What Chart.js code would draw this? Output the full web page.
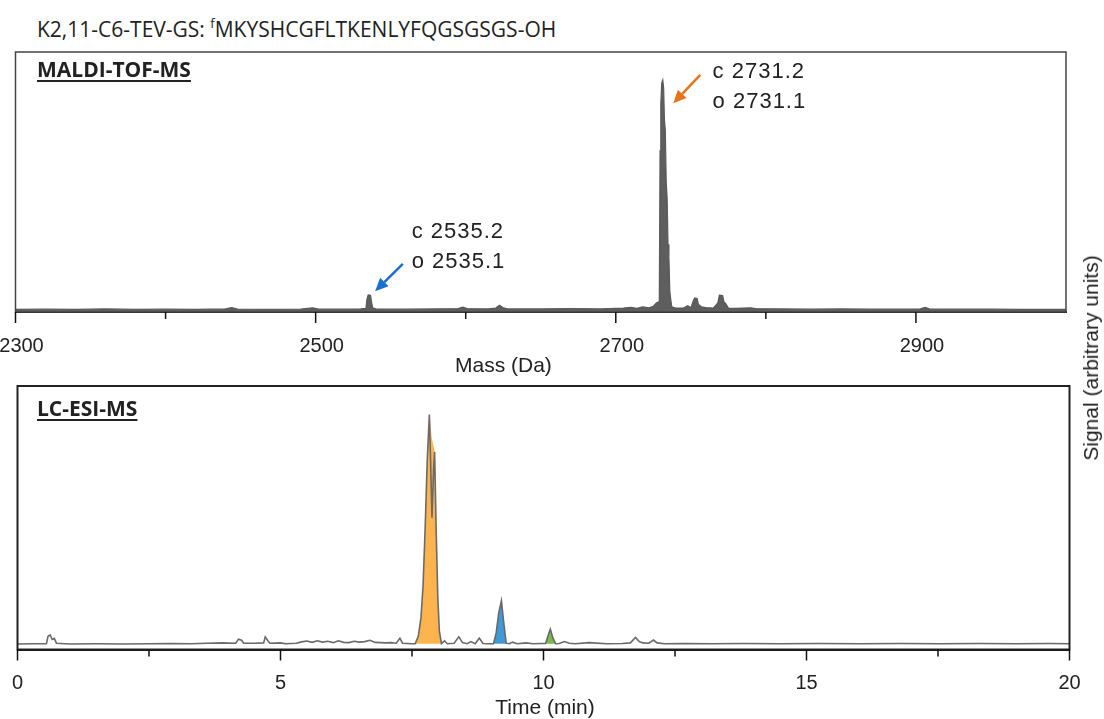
<!DOCTYPE html>
<html lang="en">
<head>
    <meta charset="UTF-8">
    <title>K2,11-C6-TEV-GS MALDI / LC-ESI</title>
    <script src="https://cdn.jsdelivr.net/npm/chart.js@4.4.1/dist/chart.umd.min.js"></script>
    <style>
        body {
            margin: 0;
            background: #ffffff;
            width: 1104px;
            height: 719px;
            overflow: hidden;
            position: relative;
            font-family: 'Liberation Sans', Arial, sans-serif;
            color: #222;
        }
        canvas { position: absolute; left: 0; }
        #topChart { top: 0; }
        #lcChart { top: 380px; }
        .title {
            position: absolute;
            left: 37px;
            top: 13px;
            font-family: 'Open Sans', sans-serif;
            font-size: 21px;
            line-height: 21px;
            white-space: nowrap;
        }
        .title sup { font-size: 13px; vertical-align: 9px; }
        .panel-label {
            position: absolute;
            left: 37px;
            font-family: 'Open Sans', sans-serif;
            font-weight: bold;
            font-size: 21px;
            line-height: 21px;
            text-decoration: underline;
            text-underline-offset: 3px;
        }
        .axis-title {
            position: absolute;
            font-size: 21px;
            line-height: 21px;
            white-space: nowrap;
        }
        .y-title {
            position: absolute;
            left: 1091px;
            top: 358px;
            font-size: 21px;
            white-space: nowrap;
            transform: translate(-50%, -50%) rotate(-90deg);
        }
    </style>
</head>
<body>
    <div class="title">K2,11-C6-TEV-GS: <sup>f</sup>MKYSHCGFLTKENLYFQGSGSGS-OH</div>
    <canvas id="topChart" width="1104" height="380"></canvas>
    <canvas id="lcChart" width="1104" height="339"></canvas>
    <div class="panel-label" style="top:59px">MALDI-TOF-MS</div>
    <div class="panel-label" style="top:398px">LC-ESI-MS</div>
    <div class="axis-title" style="left:455px; top:354px">Mass (Da)</div>
    <div class="axis-title" style="left:445px; width:200px; text-align:center; top:696px">Time (min)</div>
    <div class="y-title">Signal (arbitrary units)</div>

    <script>
        // MALDI-TOF spectrum (mass in Da, signal in arbitrary units)
        const maldiMass = [
            2300, 2320, 2340, 2360, 2380, 2400, 2420, 2440, 2444, 2448,
            2470, 2490, 2498, 2502, 2520, 2530, 2533.5, 2534.2, 2535.0, 2536.6,
            2537.2, 2538, 2540, 2560, 2580, 2595, 2598, 2601, 2615, 2620,
            2622.5, 2625, 2628, 2650, 2670, 2690, 2705, 2710, 2714, 2718,
            2722, 2725, 2727, 2729, 2729.5, 2730.0, 2730.6, 2731.3, 2731.9, 2732.4,
            2733.0, 2733.6, 2734.2, 2734.8, 2735.4, 2736.0, 2736.6, 2737.3, 2740, 2745,
            2748, 2750, 2751.8, 2752.6, 2754.2, 2755, 2757, 2760, 2765, 2768,
            2769, 2771.2, 2772, 2773.5, 2775, 2780, 2790, 2793, 2810, 2830,
            2850, 2870, 2890, 2903, 2906, 2909, 2930, 2950, 2970, 3000
        ];
        const maldiSignal = [
            1.0, 1.1, 1.0, 1.2, 1.0, 1.1, 1.0, 1.2, 1.7, 1.1,
            1.0, 1.1, 1.6, 1.1, 1.1, 1.2, 1.4, 5.0, 6.6, 6.4,
            4.0, 1.6, 1.2, 1.1, 1.2, 1.3, 1.9, 1.3, 1.2, 1.5,
            2.6, 1.6, 1.2, 1.2, 1.3, 1.2, 1.5, 1.8, 1.4, 2.0,
            1.6, 2.2, 3.5, 4.0, 62, 80, 88, 89.2, 86, 74,
            70, 50, 44, 26, 21, 8, 5, 2.0, 1.5, 1.5,
            2.4, 1.6, 4.5, 5.4, 5.2, 3.0, 2.0, 1.7, 1.5, 3.5,
            6.5, 6.3, 4.0, 3.0, 1.5, 1.4, 1.6, 1.3, 1.2, 1.1,
            1.2, 1.1, 1.1, 1.2, 1.8, 1.2, 1.1, 1.1, 1.0, 1.0
        ];
        const maldiTicks = [2300, 2400, 2500, 2600, 2700, 2800, 2900];
        const maldiLabels = [2300, 2500, 2700, 2900];

        // LC-ESI trace (time in min, signal in arbitrary units)
        const lcTime = [
            0, 0.3, 0.55, 0.58, 0.62, 0.66, 0.7, 0.74, 1.0, 1.5,
            2.0, 2.5, 2.9, 3.3, 3.6, 3.9, 4.15, 4.2, 4.26, 4.3,
            4.5, 4.68, 4.71, 4.76, 4.8, 5.0, 5.1, 5.3, 5.4, 5.5,
            5.6, 5.7, 5.8, 5.9, 6.0, 6.1, 6.2, 6.3, 6.4, 6.5,
            6.6, 6.7, 6.8, 6.9, 7.0, 7.1, 7.2, 7.27, 7.32, 7.5,
            7.56, 7.62, 7.67, 7.71, 7.75, 7.79, 7.83, 7.855, 7.88, 7.91,
            7.93, 7.96, 7.99, 8.02, 8.06, 8.12, 8.17, 8.3, 8.39, 8.46,
            8.55, 8.62, 8.7, 8.78, 8.85, 8.95, 9.05, 9.1, 9.15, 9.2,
            9.24, 9.29, 9.35, 9.41, 9.5, 9.67, 9.8, 9.95, 10.04, 10.08,
            10.13, 10.18, 10.23, 10.3, 10.4, 10.49, 10.6, 10.87, 11.2, 11.5,
            11.65, 11.75, 11.82, 11.89, 12.0, 12.09, 12.16, 12.3, 12.7, 13.2,
            13.8, 14.5, 15.2, 16.0, 16.8, 17.5, 18.3, 19.0, 19.6, 20
        ];
        const lcSignal = [
            2.1, 2.2, 2.2, 5.0, 5.5, 3.8, 4.2, 2.4, 2.1, 2.2,
            2.1, 2.2, 2.3, 2.2, 2.4, 2.5, 2.4, 3.9, 3.5, 2.4,
            2.4, 2.5, 4.8, 3.3, 2.4, 2.5, 2.2, 2.4, 2.9, 3.2,
            2.7, 3.3, 2.8, 3.1, 2.6, 3.3, 2.7, 2.6, 3.1, 2.8,
            3.0, 3.5, 2.7, 2.6, 2.5, 2.6, 2.4, 4.3, 2.4, 2.2,
            2.2, 5.0, 12, 24, 46, 72, 89.2, 70, 50, 68,
            75, 45, 20, 7, 2.2, 3.3, 2.2, 2.4, 4.8, 2.6,
            2.2, 3.0, 2.2, 4.3, 2.3, 2.2, 2.2, 6.3, 14, 18.5,
            11, 2.4, 2.2, 2.8, 2.2, 2.5, 2.2, 2.3, 2.3, 4.8,
            7.7, 4.3, 2.2, 2.3, 3.0, 2.4, 2.2, 2.6, 2.2, 2.3,
            2.5, 4.6, 3.0, 2.5, 2.4, 3.6, 2.5, 2.2, 2.3, 2.2,
            2.3, 2.2, 2.3, 2.2, 2.3, 2.2, 2.3, 2.2, 2.3, 2.2
        ];
        // highlighted LC peaks
        const orangeTime = [7.56, 7.62, 7.67, 7.71, 7.75, 7.79, 7.83, 7.88, 7.93, 7.96, 7.99, 8.02, 8.06];
        const orangeSignal = [2.2, 5.0, 12, 24, 46, 72, 89.2, 80, 75, 45, 20, 7, 2.2];
        const blueTime = [9.05, 9.1, 9.15, 9.2, 9.24, 9.29];
        const blueSignal = [2.2, 6.3, 14, 18.5, 11, 2.4];
        const greenTime = [10.04, 10.08, 10.13, 10.18, 10.23];
        const greenSignal = [2.3, 4.8, 7.7, 4.3, 2.2];
        const lcTicks = [0, 2.5, 5, 7.5, 10, 12.5, 15, 17.5, 20];
        const lcLabels = [0, 5, 10, 15, 20];

        // annotations on the MALDI panel (data coordinates)
        const maldiNotes = [
            { mass: 2764.5, signal: 92.4, text: 'c 2731.2' },
            { mass: 2764.5, signal: 80.9, text: 'o 2731.1' },
            { mass: 2564, signal: 30.9, text: 'c 2535.2' },
            { mass: 2564, signal: 19.3, text: 'o 2535.1' }
        ];
        const maldiArrows = [
            { from: [2756.3, 91.2], to: [2738.3, 80.3], color: '#e5731c' },
            { from: [2558.1, 18.5], to: [2539.6, 8.0], color: '#1b6fd0' }
        ];

        const pts = (xs, ys) => xs.map((x, i) => ({ x: x, y: ys[i] }));
        const chartFont = 'Liberation Sans';

        const frame = {
            id: 'frame',
            afterDraw(chart, args, opts) {
                const { ctx, chartArea: a } = chart;
                ctx.save();
                ctx.strokeStyle = opts.color;
                ctx.lineWidth = opts.width;
                ctx.strokeRect(a.left, a.top, a.right - a.left, a.bottom - a.top);
                ctx.restore();
            }
        };

        const tickMarks = {
            id: 'tickMarks',
            afterDraw(chart, args, opts) {
                const { ctx, chartArea: a, scales: { x } } = chart;
                ctx.save();
                ctx.strokeStyle = '#111';
                ctx.lineWidth = 1.5;
                opts.values.forEach(v => {
                    const px = x.getPixelForValue(v);
                    const len = opts.major.includes(v) ? 11 : 7;
                    ctx.beginPath();
                    ctx.moveTo(px, a.bottom);
                    ctx.lineTo(px, a.bottom + len);
                    ctx.stroke();
                });
                ctx.restore();
            }
        };

        const notes = {
            id: 'notes',
            afterDatasetsDraw(chart, args, opts) {
                const { ctx, scales: { x, y } } = chart;
                ctx.save();
                ctx.fillStyle = '#222';
                ctx.font = '22px ' + chartFont;
                ctx.letterSpacing = '1px';
                ctx.textBaseline = 'middle';
                opts.texts.forEach(n => {
                    ctx.fillText(n.text, x.getPixelForValue(n.mass), y.getPixelForValue(n.signal));
                });
                opts.arrows.forEach(ar => {
                    const x0 = x.getPixelForValue(ar.from[0]), y0 = y.getPixelForValue(ar.from[1]);
                    const x1 = x.getPixelForValue(ar.to[0]), y1 = y.getPixelForValue(ar.to[1]);
                    const ang = Math.atan2(y1 - y0, x1 - x0);
                    const head = 13, half = 6;
                    const bx = x1 - head * Math.cos(ang), by = y1 - head * Math.sin(ang);
                    ctx.strokeStyle = ar.color;
                    ctx.fillStyle = ar.color;
                    ctx.lineWidth = 2.5;
                    ctx.beginPath();
                    ctx.moveTo(x0, y0);
                    ctx.lineTo(bx, by);
                    ctx.stroke();
                    ctx.beginPath();
                    ctx.moveTo(x1, y1);
                    ctx.lineTo(bx + half * Math.sin(ang), by - half * Math.cos(ang));
                    ctx.lineTo(bx - half * Math.sin(ang), by + half * Math.cos(ang));
                    ctx.closePath();
                    ctx.fill();
                });
                ctx.restore();
            }
        };

        function xAxis(min, max, step, labels, height, shift) {
            return {
                type: 'linear',
                min: min,
                max: max,
                grid: { display: false, drawTicks: false },
                border: { display: true, color: '#111', width: 2 },
                ticks: {
                    stepSize: step,
                    autoSkip: false,
                    maxRotation: 0,
                    padding: 22,
                    labelOffset: shift,
                    color: '#222',
                    font: { family: chartFont, size: 20 },
                    callback: v => labels.includes(v) ? String(v) : ''
                },
                afterFit: s => { s.height = height; s.paddingLeft = 0; s.paddingRight = 0; }
            };
        }

        new Chart(document.getElementById('topChart'), {
            type: 'line',
            data: {
                datasets: [{
                    data: pts(maldiMass, maldiSignal),
                    borderColor: '#5a5a5a',
                    backgroundColor: '#5e5e5e',
                    borderWidth: 1.2,
                    fill: 'origin',
                    pointRadius: 0,
                    tension: 0
                }]
            },
            options: {
                responsive: false,
                animation: false,
                layout: { padding: { left: 15.5, right: 38, top: 52, bottom: 0 } },
                plugins: {
                    legend: { display: false },
                    tooltip: { enabled: false },
                    frame: { color: '#444', width: 1.5 },
                    tickMarks: { values: maldiTicks, major: maldiLabels },
                    notes: { texts: maldiNotes, arrows: maldiArrows }
                },
                scales: {
                    x: xAxis(2300, 3000, 100, maldiLabels, 68, 6),
                    y: { display: false, min: 0, max: 100 }
                }
            },
            plugins: [frame, tickMarks, notes]
        });

        new Chart(document.getElementById('lcChart'), {
            type: 'line',
            data: {
                datasets: [
                    { data: pts(lcTime, lcSignal), borderColor: '#6a6a6a', borderWidth: 1.6, fill: false, pointRadius: 0, tension: 0 },
                    { data: pts(orangeTime, orangeSignal), borderWidth: 0, backgroundColor: '#fdb44f', fill: { value: 2.2 }, pointRadius: 0, tension: 0.2 },
                    { data: pts(blueTime, blueSignal), borderWidth: 0, backgroundColor: '#3f9ad8', fill: { value: 2.2 }, pointRadius: 0, tension: 0.2 },
                    { data: pts(greenTime, greenSignal), borderWidth: 0, backgroundColor: '#7cb84a', fill: { value: 2.2 }, pointRadius: 0, tension: 0.2 }
                ]
            },
            options: {
                responsive: false,
                animation: false,
                layout: { padding: { left: 17.5, right: 34.5, top: 6, bottom: 0 } },
                plugins: {
                    legend: { display: false },
                    tooltip: { enabled: false },
                    frame: { color: '#222', width: 2 },
                    tickMarks: { values: lcTicks, major: lcLabels }
                },
                scales: {
                    x: xAxis(0, 20, 2.5, lcLabels, 69.5, 0),
                    y: { display: false, min: 0, max: 100 }
                }
            },
            plugins: [frame, tickMarks]
        });
    </script>
</body>
</html>
